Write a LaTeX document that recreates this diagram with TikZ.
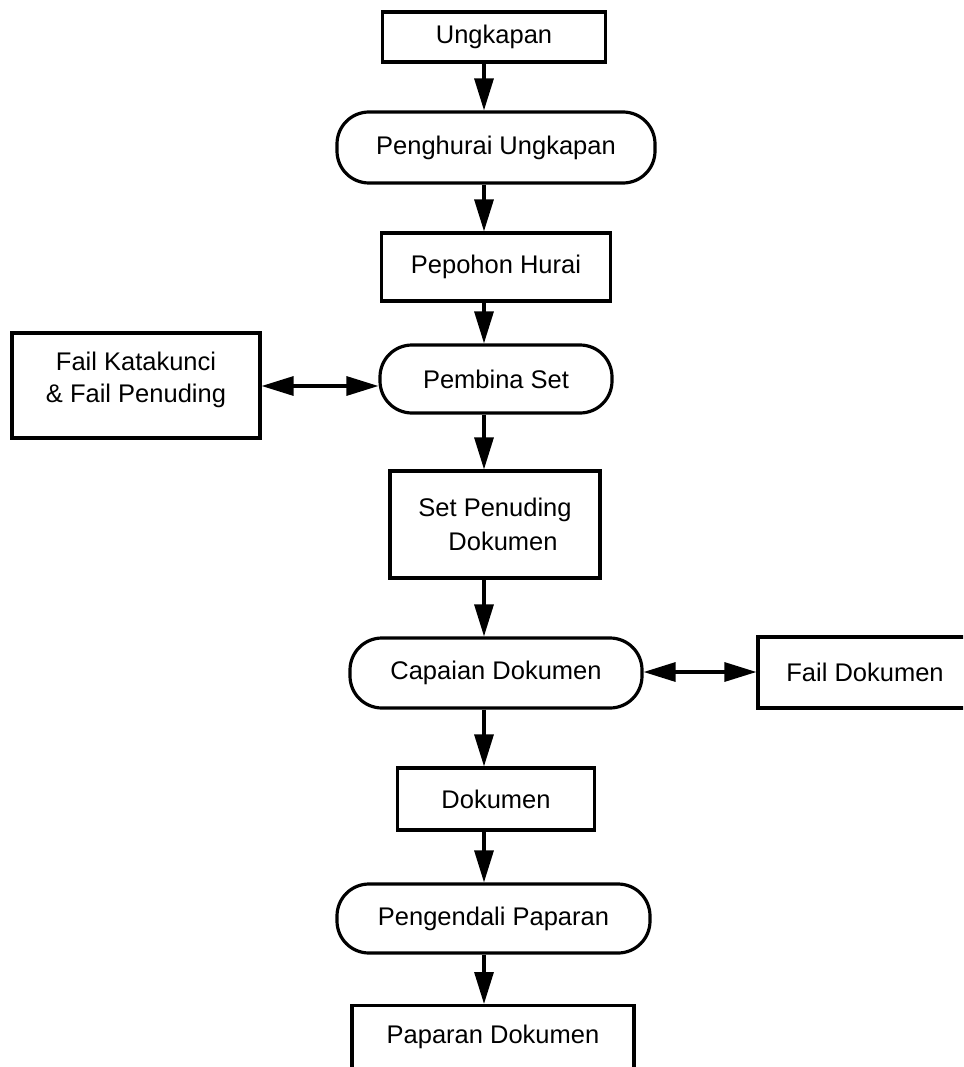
\documentclass[tikz,border=0pt]{standalone}
\usepackage{fontspec}
\setmainfont{Liberation Sans}
\usetikzlibrary{arrows.meta}
\begin{document}
\begin{tikzpicture}[x=1pt,y=-1pt,
  every node/.style={font=\fontsize{25.5}{32}\selectfont},
  boxnode/.style={draw, line width=3.2pt, inner sep=0pt, align=center},
  roundnode/.style={boxnode, rounded corners=32pt},
  flowarrow/.style={line width=3.2pt, -{Triangle[length=32pt,width=19pt]}},
  dblarrow/.style={line width=3.2pt, {Triangle[length=32pt,width=19pt]}-{Triangle[length=32pt,width=19pt]}}]
\useasboundingbox (0,0) rectangle (963,1067);
\clip (0,0) rectangle (963,1067);
\coordinate (ax) at (484,0);
\node[boxnode, minimum width=223pt, minimum height=50pt] (ung) at (494,37) {Ungkapan};
\node[roundnode, minimum width=318pt, minimum height=71pt] (phu) at (496,147.5) {Penghurai Ungkapan};
\node[boxnode, minimum width=229pt, minimum height=68pt] (poh) at (496,267) {Pepohon Hurai};
\node[roundnode, minimum width=232pt, minimum height=68pt] (pbs) at (496,379) {Pembina Set};
\node[boxnode, minimum width=248pt, minimum height=105pt, text depth=16pt] (fkk) at (136,385.5) {Fail Katakunci\\\& Fail Penuding};
\node[boxnode, minimum width=210pt, minimum height=107pt, align=left, font=\fontsize{25.5}{34}\selectfont] (spd) at (495,524.5) {Set Penuding\\\hspace*{30pt}Dokumen};
\node[roundnode, minimum width=292pt, minimum height=70pt] (cap) at (496,673) {Capaian Dokumen};
\node[boxnode, minimum width=214pt, minimum height=71pt] (fdk) at (865,672.5) {Fail Dokumen};
\node[boxnode, minimum width=197pt, minimum height=62pt] (dok) at (496,799) {Dokumen};
\node[roundnode, minimum width=313pt, minimum height=69pt] (pgp) at (493.5,918.5) {Pengendali Paparan};
\node[boxnode, minimum width=282pt, anchor=north, text height=38pt, text depth=80pt] (ppd) at (493,1004) {Paparan Dokumen};
\draw[flowarrow] (ung.south -| ax) -- (phu.north -| ax);
\draw[flowarrow] (phu.south -| ax) -- (poh.north -| ax);
\draw[flowarrow] (poh.south -| ax) -- (pbs.north -| ax);
\draw[flowarrow] (pbs.south -| ax) -- (spd.north -| ax);
\draw[flowarrow] (spd.south -| ax) -- (cap.north -| ax);
\draw[flowarrow] (cap.south -| ax) -- (dok.north -| ax);
\draw[flowarrow] (dok.south -| ax) -- (pgp.north -| ax);
\draw[flowarrow] (pgp.south -| ax) -- (ppd.north -| ax);
\coordinate (ya) at (0,386);
\coordinate (yb) at (0,672);
\draw[dblarrow] (fkk.east |- ya) -- (pbs.west |- ya);
\draw[dblarrow] (cap.east |- yb) -- (fdk.west |- yb);
\end{tikzpicture}
\end{document}
